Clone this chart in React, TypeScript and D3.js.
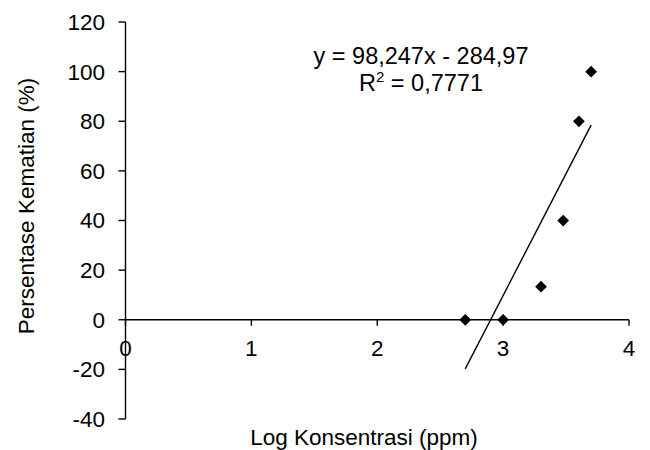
import React from "react";
import * as d3 from "d3";

// log concentration vs mortality (%)
const logKonsentrasi = [2.699, 3.0, 3.301, 3.477, 3.602, 3.699];
const kematian = [0, 0, 13.33, 40, 80, 100];
const xTicks = [0, 1, 2, 3, 4];
const yTicks = [-40, -20, 0, 20, 40, 60, 80, 100, 120];
const slope = 98.247;
const intercept = -284.97;
const eqLabel = "y = 98,247x - 284,97";
const r2Label = " = 0,7771";

const W = 650, H = 450;

const App = () => {
	const x = d3.scaleLinear().domain([0, 4]).range([125.5, 629]);
	const y = d3.scaleLinear().domain([-40, 120]).range([419, 22]);

	const xMin = d3.min(logKonsentrasi) as number;
	const xMax = d3.max(logKonsentrasi) as number;
	const trend = d3.line<number>()
		.x(d => x(d))
		.y(d => y(slope * d + intercept));

	const diamond = d3.symbol().type(d3.symbolDiamond2).size(88);

	const font = "Arial, 'Liberation Sans', sans-serif";
	const fs = 22.5;

	return (
		<svg width={W} height={H} style={{position: "absolute", left: 0, top: 0}} fontFamily={font}>
			<rect width={W} height={H} fill="white" />
			{/* y axis */}
			<line x1={x(0)} x2={x(0)} y1={y(-40)} y2={y(120)} stroke="black" strokeWidth={1.4} />
			{yTicks.map(t => (
				<g key={"y" + t}>
					<line x1={x(0) - 7} x2={x(0)} y1={y(t)} y2={y(t)} stroke="black" strokeWidth={1.4} />
					<text x={105} y={y(t)} dy="0.35em" textAnchor="end" fontSize={fs}>{t}</text>
				</g>
			))}
			{/* x axis at y=0 */}
			<line x1={x(0)} x2={x(4)} y1={y(0)} y2={y(0)} stroke="black" strokeWidth={1.4} />
			{xTicks.map(t => (
				<g key={"x" + t}>
					<line x1={x(t)} x2={x(t)} y1={y(0)} y2={y(0) + 6} stroke="black" strokeWidth={1.4} />
					<text x={x(t)} y={356} textAnchor="middle" fontSize={fs}>{t}</text>
				</g>
			))}
			{/* trendline */}
			<path d={trend([xMin, xMax]) || ""} stroke="black" strokeWidth={1.4} fill="none" />
			{logKonsentrasi.map((v, i) => (
				<path key={"p" + i} d={diamond() || ""} transform={`translate(${x(v)},${y(kematian[i])})`} fill="black" />
			))}
			<text x={421} y={64} textAnchor="middle" fontSize={23.5}>{eqLabel}</text>
			<text x={421} y={91} textAnchor="middle" fontSize={23.5}>
				R<tspan dy={-9} fontSize={15}>2</tspan><tspan dy={9}>{r2Label}</tspan>
			</text>
			<text x={364} y={445} textAnchor="middle" fontSize={fs}>Log Konsentrasi (ppm)</text>
			<text transform={`translate(34,206) rotate(-90)`} textAnchor="middle" fontSize={fs}>Persentase Kematian (%)</text>
		</svg>
	);
};

export default App;
